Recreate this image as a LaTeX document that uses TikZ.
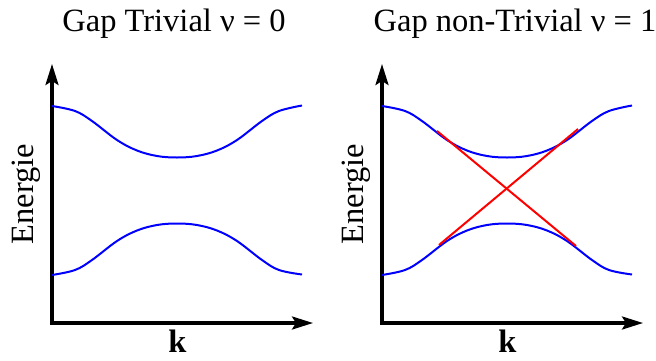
\documentclass[tikz,border=0pt]{standalone}
\usepackage{fontspec}
\setmainfont{Liberation Serif}
\usetikzlibrary{arrows.meta}
\begin{document}
\begin{tikzpicture}[x=1pt,y=-1pt,
  axis/.style={line width=3.2pt,{Stealth[length=21pt,width=13pt,inset=4pt]}-{Stealth[length=21pt,width=13pt,inset=4pt]}},
  band/.style={blue,line width=2pt},
  dirac/.style={red,line width=2pt},
  lbl/.style={font=\fontsize{32.5}{36}\selectfont,inner sep=0pt,anchor=base}]
\useasboundingbox (0,0) rectangle (656,360);
% titles
\node[lbl] (t1) at (174,31.5) {Gap Trivial ν = 0};
\node[lbl] (t2) at (515,31.5) {Gap non-Trivial ν = 1};
% axes
\foreach \s/\n in {0/a,330/b}{
  \begin{scope}[xshift=\s pt]
    \coordinate (y\n) at (52,64);
    \coordinate (x\n) at (313,323);
    \draw[axis] (y\n) |- (x\n);
    \node[lbl,rotate=90] (e\n) at (33,194) {Energie};
    \node[lbl] (k\n) at (177.5,352) {\textbf{k}};
    \draw[band] plot[smooth,tension=0.6] coordinates {(52,106) (75,111) (92,121) (117,140) (137,150.5) (157,156) (177,157.5) (197,156) (217,150.5) (237,140) (262,121) (279,111) (302,105.5)};
    \draw[band] plot[smooth,tension=0.6] coordinates {(52,275) (75,270) (92,260) (117,241) (137,230.5) (157,225) (177,223.5) (197,225) (217,230.5) (237,241) (262,260) (279,270) (302,274.5)};
  \end{scope}
}
% crossing lines
\coordinate (r1) at (437,131);
\coordinate (r2) at (576,246);
\coordinate (r3) at (439,245);
\coordinate (r4) at (578,129);
\draw[dirac] (r1) -- (r2);
\draw[dirac] (r3) -- (r4);
\end{tikzpicture}
\end{document}
